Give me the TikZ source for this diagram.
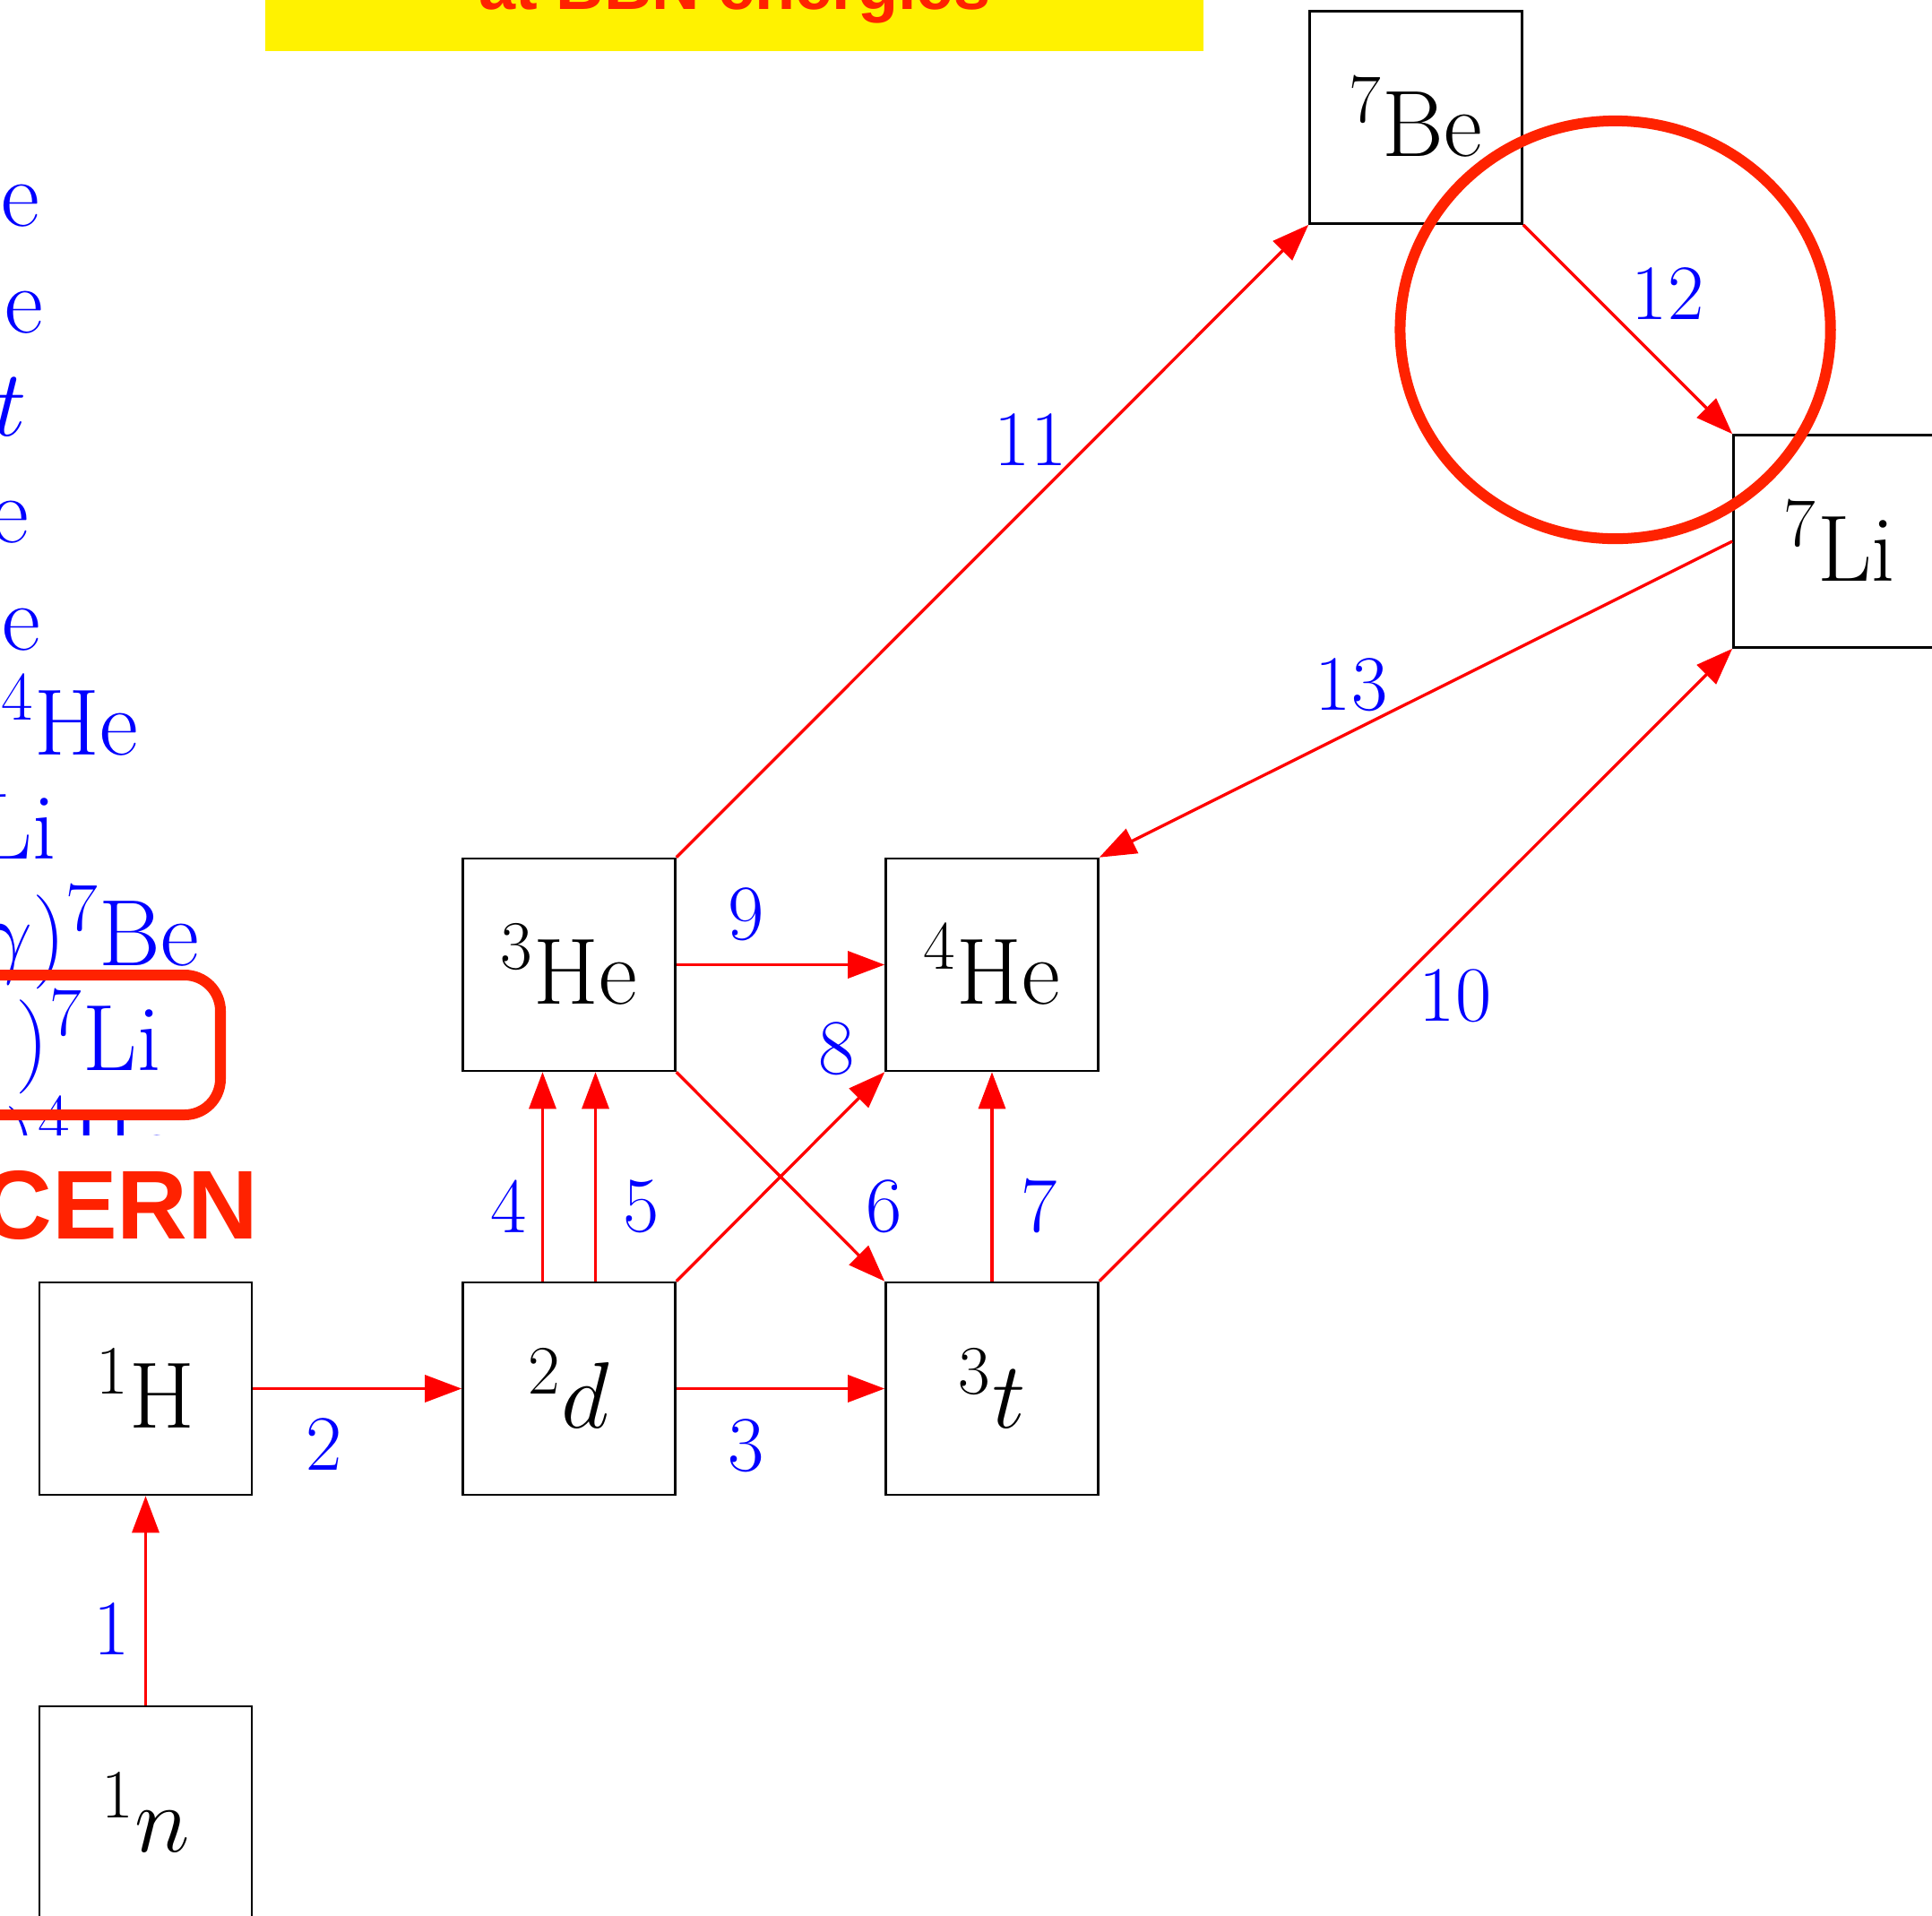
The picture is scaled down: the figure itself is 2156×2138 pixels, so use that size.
\documentclass[tikz,border=0pt]{standalone}
\usepackage{fix-cm}
\usepackage{fontspec}
\newfontfamily\hv{Liberation Sans}
\usetikzlibrary{arrows.meta}
\DeclareMathSizes{29.9}{29.9}{22}{17}
\definecolor{orred}{RGB}{255,34,0}
\definecolor{arrred}{RGB}{255,0,0}
\definecolor{lblue}{RGB}{0,0,255}
\begin{document}
\begin{tikzpicture}[x=0.01cm,y=-0.01cm,
 nuc/.style={draw=black,line width=0.7pt,minimum size=2.37cm,inner sep=0pt,font=\fontsize{29.9}{36}\selectfont},
 rx/.style={draw=arrred,line width=0.95pt,-{Triangle[length=0.41cm,width=0.30cm]}},
 lbl/.style={text=lblue,inner sep=0pt,font=\fontsize{24.9}{30}\selectfont},
 lft/.style={text=lblue,inner sep=0pt,anchor=base east,font=\fontsize{29.9}{36}\selectfont},
 hl/.style={draw=orred,line width=0.12cm}]
\useasboundingbox (0,0) rectangle (2156,2138);
% title strip
\fill[yellow] (296,-20) rectangle (1343,57);
\node[text=orred,font=\hv\bfseries\fontsize{21}{25}\selectfont,anchor=base,inner sep=0pt] (title) at (820,10) {at BBN energies};
% left reaction list (cut off)
\node[lft] (r1) at (45,252) {e};
\node[lft] (r2) at (49,371) {e};
\node[lft] (r3) at (30,486) {$t$};
\node[lft] (r4) at (33,605) {e};
\node[lft] (r5) at (46,725) {e};
\node[lft] (r6) at (155,842) {$^4$He};
\node[lft] (r7) at (63,958) {Li};
\node[lft] (r8) at (223,1077) {$\gamma)^7$Be};
\node[lft] (r9) at (180,1194) {$)^7$Li};
\node[lft] (r10) at (196,1313) {$)^4$He};
\fill[white] (-10,1267) rectangle (300,1405);
\node[text=orred,font=\hv\bfseries\fontsize{31}{37}\selectfont,anchor=base east,inner sep=0pt] (cern) at (289,1382) {CERN};
\draw[hl,rounded corners=0.4cm] (-100,1088) rectangle (246,1244);
% nuclei
\node[nuc] (n1) at (162.5,2022.5) {$^1n$};
\node[nuc] (H1) at (162.5,1549.5) {$^1$H};
\node[nuc] (d2) at (635,1549.5) {$^2d$};
\node[nuc] (t3) at (1107,1549.5) {$^3t$};
\node[nuc] (He3) at (635,1076.5) {$^3$He};
\node[nuc] (He4) at (1107,1076.5) {$^4$He};
\node[nuc] (Li7) at (2053,604) {$^7$Li};
\node[nuc] (Be7) at (1580,131) {$^7$Be};
% reactions
\draw[rx] (n1.north) -- (H1.south);
\draw[rx] (H1.east) -- (d2.west);
\draw[rx] (d2.east) -- (t3.west);
\draw[rx] ([xshift=-0.295cm]d2.north) -- ([xshift=-0.295cm]He3.south);
\draw[rx] ([xshift=0.295cm]d2.north) -- ([xshift=0.295cm]He3.south);
\draw[rx] (He3.south east) -- (t3.north west);
\draw[rx] (t3.north) -- (He4.south);
\draw[rx] (d2.north east) -- (He4.south west);
\draw[rx] (He3.east) -- (He4.west);
\draw[rx] (t3.north east) -- (Li7.south west);
\draw[rx] (He3.north east) -- (Be7.south west);
\draw[rx] (Be7.south east) -- (Li7.north west);
\draw[rx] (Li7.west) -- (He4.north east);
% labels
\node[lbl] (l1) at (125,1818) {1};
\node[lbl] (l2) at (362,1612) {2};
\node[lbl] (l3) at (833,1613) {3};
\node[lbl] (l4) at (568,1346) {4};
\node[lbl] (l5) at (716,1346) {5};
\node[lbl] (l6) at (987,1346) {6};
\node[lbl] (l7) at (1160,1346) {7};
\node[lbl] (l8) at (934,1170) {8};
\node[lbl] (l9) at (833,1020) {9};
\node[lbl] (l10) at (1624,1111) {10};
\node[lbl] (l11) at (1150,491) {11};
\node[lbl] (l12) at (1861,328) {12};
\node[lbl] (l13) at (1508,764) {13};
% highlight circle
\draw[hl] (1802.6,368) ellipse[x radius=2.40cm,y radius=2.33cm];
\end{tikzpicture}
\end{document}
